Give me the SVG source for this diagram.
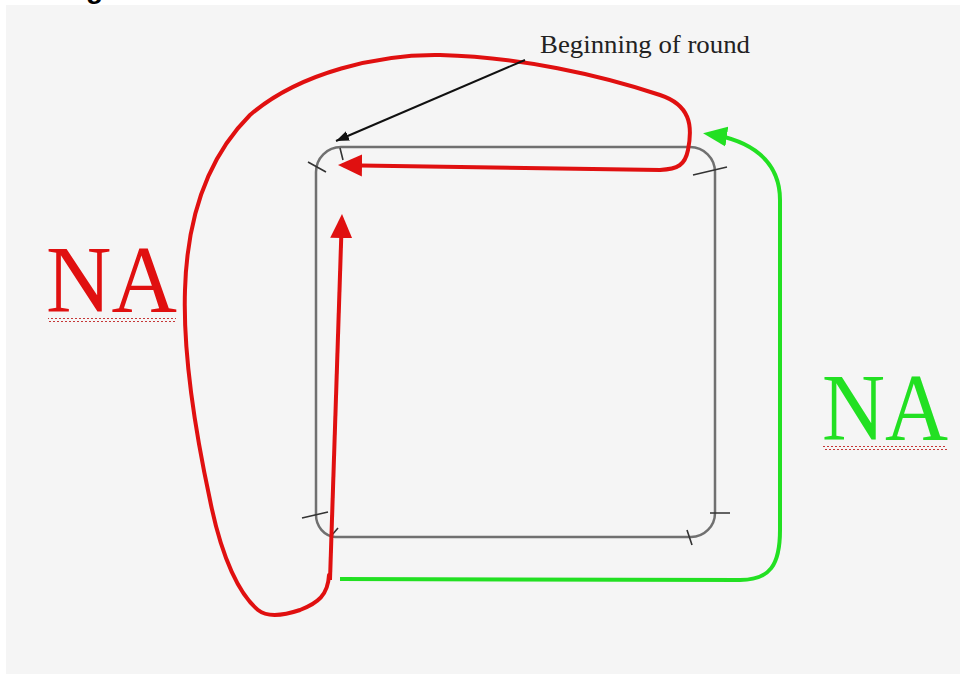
<svg xmlns="http://www.w3.org/2000/svg" width="960" height="674" viewBox="0 0 960 674">
<style>
.box{fill:none;stroke:#707070;stroke-width:2.5}
.tick{fill:none;stroke:#333;stroke-width:1.6}
.red{fill:none;stroke:#e01010;stroke-width:4;stroke-linecap:butt;stroke-linejoin:round}
.green{fill:none;stroke:#22e022;stroke-width:4;stroke-linecap:butt}
.blk{fill:none;stroke:#111;stroke-width:2}
.big{font-family:"Liberation Serif","Times New Roman",serif;font-size:96px}
.lbl{font-family:"Liberation Serif","Times New Roman",serif;font-size:26px;fill:#222}
</style>
<defs>
<marker id="ar" markerUnits="userSpaceOnUse" markerWidth="26" markerHeight="24" refX="18" refY="12" orient="auto"><path d="M0,1 L24,12 L0,23 Z" fill="#e01010"/></marker>
<marker id="ag" markerUnits="userSpaceOnUse" markerWidth="26" markerHeight="24" refX="18" refY="12" orient="auto"><path d="M0,2 L24,12 L0,22 Z" fill="#22e022"/></marker>
<marker id="ab" markerUnits="userSpaceOnUse" markerWidth="14" markerHeight="12" refX="13" refY="6" orient="auto"><path d="M0,1 L13,6 L0,11 Z" fill="#111"/></marker>
<pattern id="wavy" width="4" height="4" patternUnits="userSpaceOnUse"><path d="M0,3 L2,1 L4,3" fill="none" stroke="#c02020" stroke-width="0.9"/></pattern>
</defs>
<rect x="0" y="0" width="960" height="674" fill="#ffffff"/>
<rect x="6" y="5" width="954" height="669" fill="#f5f5f5"/>
<text x="86" y="-2" font-family="Liberation Sans, Arial, sans-serif" font-weight="bold" font-size="28" fill="#000">g</text>

<g id="box">
<path class="box" d="M316,172 A25,25 0 0 1 341,147 L690,147 A25,25 0 0 1 715,172 L715,513 A24,24 0 0 1 691,537 L335,537 A21,22 0 0 1 316,515 Z"/>
<path class="tick" d="M308,162 L326,172 M340,148 L343,160 M693,175 L727,167 M710,513 L730,513 M687,530 L692,545 M302,518 L328,512 M332,535 L338,528"/>
</g>

<g id="connectors">
<path class="red" d="M330,580 L341.8,220" marker-end="url(#ar)"/>
<path class="red" style="stroke-linecap:round" d="M329,575 C328,595 318,603 300,610 C285,615 268,618 258,610 C240,595 222,560 210,500 C195,430 183,350 185,290 C187,220 205,160 250,115 C300,72 380,54 440,55 C520,57 600,75 660,95 C690,105 693,125 688,150 C685,165 678,169 660,170 L344,165.2" marker-end="url(#ar)"/>
<path class="green" d="M340,579 L740,580 C770,580 780,565 780,530 L780,200 C780,160 750,140 709,134" marker-end="url(#ag)"/>
<path class="blk" d="M525,60 L336,141" marker-end="url(#ab)"/>
</g>

<g id="label-beginning">
<text class="lbl" x="540" y="53" textLength="210" lengthAdjust="spacingAndGlyphs">Beginning of round</text>
</g>
<g id="label-na-red">
<text class="big" x="46" y="312" fill="#e01010" textLength="131" lengthAdjust="spacingAndGlyphs">NA</text>
<rect x="48" y="318" width="128" height="4" fill="url(#wavy)"/>
</g>
<g id="label-na-green">
<text class="big" x="822" y="440" fill="#22e022" textLength="126" lengthAdjust="spacingAndGlyphs">NA</text>
<rect x="823" y="446" width="124" height="4" fill="url(#wavy)"/>
</g>
</svg>
